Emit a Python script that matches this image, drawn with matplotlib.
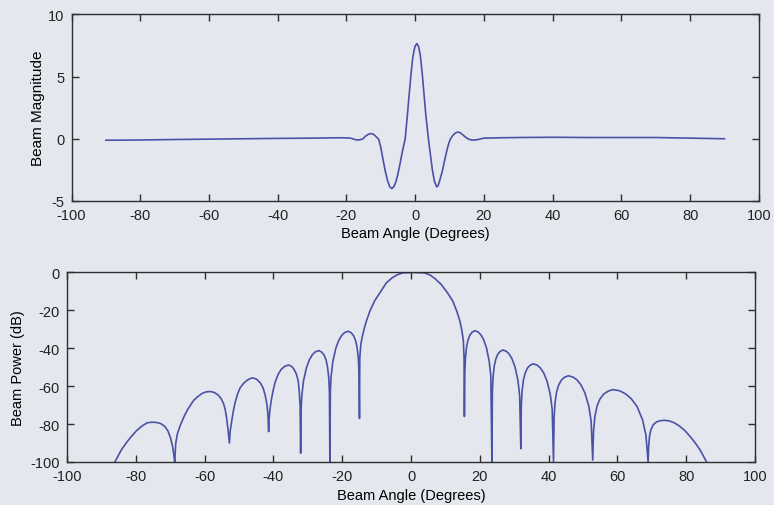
import matplotlib
matplotlib.use("Agg")
import matplotlib.pyplot as plt

# Sum-difference beam: magnitude vs angle
mag_angle = [-90, -80, -70, -60, -50, -40, -30, -22, -19, -17, -16, -15.2, -14.5, -13.6, -12.8,
             -12.3, -11.8, -11.2, -10.6, -10.0, -9.4, -8.7, -8.0, -7.4, -6.8, -6.2, -5.6,
             -5.0, -4.4, -3.7, -3.3, -2.9, -2.3, -1.7, -1.2, -0.8, -0.4, 0.0, 0.5, 1.0,
             1.5, 2.1, 2.6, 3.1, 3.5, 3.85, 4.4, 5.0, 5.6, 6.25, 6.7, 7.2, 7.9, 8.6, 9.3,
             9.8, 10.3, 10.9, 11.5, 12.1, 12.7, 13.3, 14.0, 14.8, 15.6, 16.5, 17.5, 18.5,
             20, 25, 30, 40, 50, 60, 70, 80, 90]
mag_value = [-0.12, -0.1, -0.06, -0.03, 0.0, 0.03, 0.05, 0.08, 0.06, -0.1, -0.08, 0.0, 0.2, 0.36, 0.42,
             0.38, 0.28, 0.12, -0.05, -0.7, -1.6, -2.6, -3.4, -3.85, -4.0, -3.85, -3.45,
             -2.8, -2.0, -1.0, -0.5, 0.0, 1.8, 3.7, 5.2, 6.3, 7.0, 7.45, 7.65, 7.4,
             6.7, 5.1, 3.5, 1.9, 0.9, 0.0, -1.2, -2.5, -3.4, -3.87, -3.75, -3.3, -2.6, -1.7, -0.85,
             -0.35, 0.0, 0.25, 0.42, 0.52, 0.53, 0.45, 0.28, 0.1, -0.04, -0.1, -0.1, -0.05,
             0.05, 0.08, 0.1, 0.12, 0.1, 0.1, 0.1, 0.05, 0.0]

# Beam power pattern in dB (lobe by lobe, left to right)
pow_angle = [
    -86.1, -84.2, -82.7, -81.2, -79.7, -78.2, -76.7, -75.2, -73.8, -72.7, -71.6, -70.7, -70.0,
    -69.3, -68.9, -68.7,
    -68.4, -67.9, -67.1, -66.1, -65.1, -64.1, -63.2, -62.0, -60.8, -59.6, -58.4, -57.2, -56.0,
    -55.2, -54.5, -54.0, -53.6, -53.2, -52.8,
    -52.6, -52.1, -51.6, -51.1, -50.4, -49.7, -48.7, -47.7, -46.8, -46.0, -44.9, -43.8, -43.0,
    -42.4, -41.9, -41.6, -41.4,
    -41.3, -41.0, -40.5, -40.0, -39.5, -38.6, -37.7, -36.7, -35.6, -34.7, -34.0, -33.3, -32.8,
    -32.5, -32.25, -32.1,
    -31.95, -31.76, -31.25, -30.4, -29.55, -28.7, -27.85, -26.8, -26.0, -25.3, -24.7, -24.3,
    -23.94, -23.73, -23.6,
    -23.45, -23.26, -22.74, -21.88, -21.02, -20.16, -19.3, -18.27, -17.4, -16.72, -16.12,
    -15.69, -15.34, -15.13, -15.0,
    -14.9, -14.6, -14.2, -13.6, -13.0, -12.0, -10.6, -9.0, -7.2, -5.5, -4.0, -2.4, 0.7, 3.9,
    5.5, 7.0, 8.7, 10.5, 12.1, 13.3, 14.2, 14.8, 15.2, 15.4, 15.5,
    15.62, 15.82, 16.14, 16.54, 17.1, 17.74, 18.54, 19.5, 20.3, 21.1, 21.9, 22.7, 23.18, 23.5,
    23.63, 23.84, 24.17, 24.59, 25.18, 25.85, 26.7, 27.7, 28.54, 29.38, 30.22, 31.06, 31.56, 31.9,
    32.04, 32.28, 32.66, 33.14, 33.8, 34.56, 35.51, 36.65, 37.6, 38.55, 39.5, 40.45, 41.02, 41.4,
    41.57, 41.86, 42.31, 42.88, 43.68, 44.59, 45.73, 47.1, 48.24, 49.38, 50.52, 51.66, 52.34, 52.8,
    53.04, 53.44, 54.09, 54.89, 56.02, 57.31, 58.6, 60.6, 62.3, 64.0, 65.7, 67.3, 68.26, 68.9,
    69.05, 69.3, 69.7, 70.4, 71.4, 72.5, 73.6, 75.0, 76.5, 78.0, 79.5, 81.0, 82.5, 84.0, 85.9]
pow_db = [
    -100, -93.6, -89.7, -86.3, -83.3, -81.0, -79.3, -79.0, -79.2, -79.8, -81.2, -83.5, -86.8,
    -92, -97, -100,
    -90, -85, -80.7, -76.5, -72.8, -70, -67.5, -65.5, -63.9, -63.0, -62.8, -63.3, -64.8,
    -66.6, -69.2, -72.5, -77, -83, -90,
    -84, -78, -72.5, -68.3, -64, -60.9, -58.5, -56.9, -56.0, -55.6, -56.3, -58.3, -61,
    -64.8, -69.5, -75, -84,
    -78, -72, -66, -61.5, -57.8, -53.6, -51.0, -49.5, -48.8, -49.6, -51.1, -53.8, -57.3,
    -62.8, -70, -95.4,
    -72, -65, -57, -50.2, -46.0, -43.4, -41.9, -41.2, -42.0, -43.5, -46.2, -49.7,
    -55.2, -63, -100,
    -62, -55, -47, -40, -35.8, -33.2, -31.7, -31.0, -31.8, -33.3, -36.0,
    -39.5, -45, -53, -77,
    -45, -38, -34, -29.5, -25.7, -20.5, -15, -10.5, -5.5, -2.8, -1.2, -0.2, 0, -0.2,
    -1.3, -3.3, -6.2, -10.5, -15, -20.5, -25.7, -31, -36, -45, -76,
    -52.7, -44.7, -39.2, -35.7, -33.0, -31.5, -30.7, -31.4, -32.9, -35.5, -39.7, -46.7, -54.7, -100,
    -62.9, -54.9, -49.4, -45.9, -43.2, -41.7, -40.9, -41.6, -43.1, -45.7, -49.9, -56.9, -64.9, -93,
    -70.2, -62.2, -56.7, -53.2, -50.5, -49.0, -48.2, -48.9, -50.4, -53.0, -57.2, -64.2, -72.2, -100,
    -76.5, -68.5, -63.0, -59.5, -56.8, -55.3, -54.5, -55.2, -56.7, -59.3, -63.5, -70.5, -78.5, -99,
    -83.8, -75.8, -70.3, -66.8, -64.1, -62.6, -61.8, -62.4, -64.0, -66.6, -70.8, -77.8, -85.8, -100,
    -92, -86.5, -83, -80.3, -78.8, -78.2, -78.0, -78.3, -79.3, -81.0, -83.3, -86.3, -89.7, -93.6, -100]

x_ticks = [-100, -80, -60, -40, -20, 0, 20, 40, 60, 80, 100]
mag_ticks = [-5, 0, 5, 10]
pow_ticks = [-100, -80, -60, -40, -20, 0]

paper = "#e5e7ee"
line_col = "#4a52a6"
ink = "#2e2e2e"

plt.rcParams["font.family"] = ["Liberation Sans", "DejaVu Sans"]
plt.rcParams["font.size"] = 10.5
plt.rcParams["axes.unicode_minus"] = False

fig = plt.figure(figsize=(7.74, 5.06), dpi=100, facecolor=paper)

ax1 = fig.add_axes([0.0924, 0.6008, 0.888, 0.369])
ax2 = fig.add_axes([0.0866, 0.085, 0.889, 0.3745])


def style(ax):
    ax.set_facecolor(paper)
    for s in ax.spines.values():
        s.set_color(ink)
        s.set_linewidth(1.0)
    ax.tick_params(direction="in", length=5, width=1.0, color=ink,
                   labelcolor="#222222", top=True, right=True, pad=5)


ax1.plot(mag_angle, mag_value, color=line_col, lw=1.2)
ax1.set_xlim(-100, 100)
ax1.set_ylim(-5, 10)
ax1.set_xticks(x_ticks)
ax1.set_yticks(mag_ticks)
ax1.set_xlabel("Beam Angle (Degrees)", labelpad=3)
ax1.set_ylabel("Beam Magnitude", labelpad=2, fontsize=11)
style(ax1)

ax2.plot(pow_angle, pow_db, color=line_col, lw=1.2)
ax2.set_xlim(-100, 100)
ax2.set_ylim(-100, 0)
ax2.set_xticks(x_ticks)
ax2.set_yticks(pow_ticks)
ax2.set_xlabel("Beam Angle (Degrees)", labelpad=4)
ax2.set_ylabel("Beam Power (dB)", labelpad=4)
style(ax2)

fig.savefig("out.png", dpi=100, facecolor=paper)
